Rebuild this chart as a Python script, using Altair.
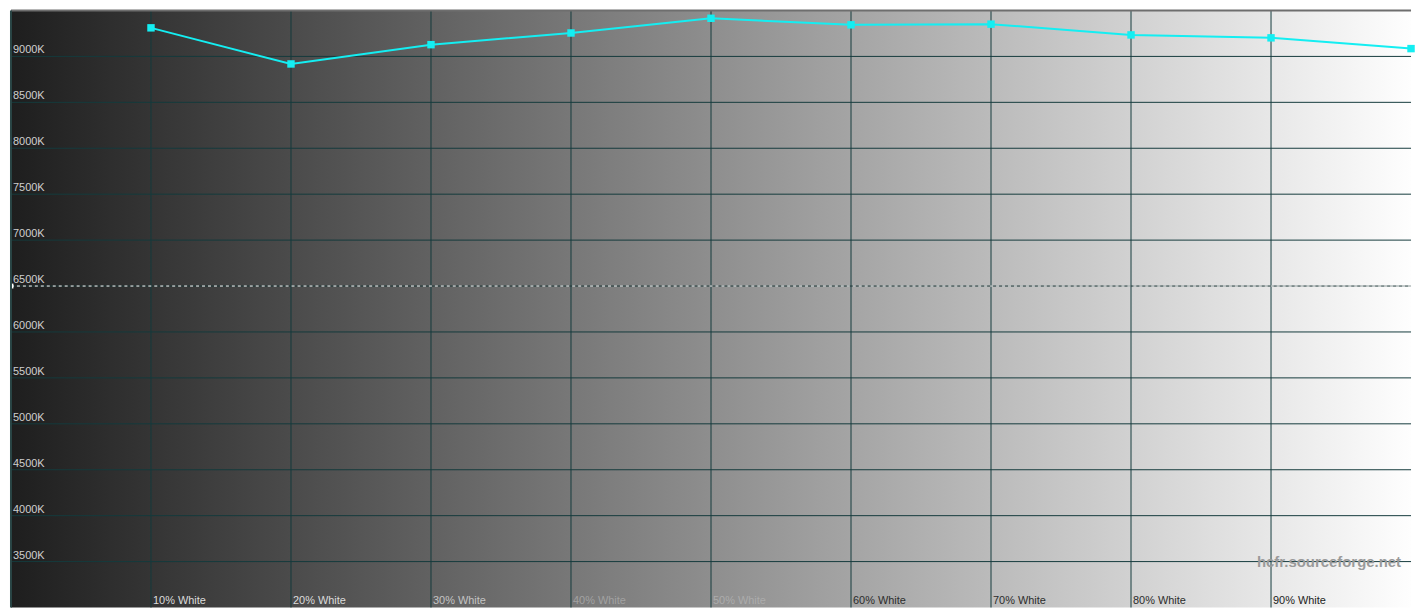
import altair as alt
import pandas as pd

# Data
levels = [10, 20, 30, 40, 50, 60, 70, 80, 90, 100]
temps = [9311, 8918, 9128, 9255, 9415, 9344, 9351, 9234, 9202, 9085]

x_ticks = [10, 20, 30, 40, 50, 60, 70, 80, 90]
x_labels = ["10% White", "20% White", "30% White", "40% White", "50% White",
            "60% White", "70% White", "80% White", "90% White"]
x_label_colors = ["#dcdcdc", "#dcdcdc", "#c4c4c4", "#a2a2a2", "#acacac",
                  "#2c2c2c", "#2c2c2c", "#2c2c2c", "#222222"]

y_ticks = [3500, 4000, 4500, 5000, 5500, 6000, 6500, 7000, 7500, 8000, 8500, 9000]
y_labels = [f"{v}K" for v in y_ticks]

reference_temp = 6500
x_min, x_max = 0, 100
y_min, y_max = 3000, 9500

W, H = 1407, 600

xs = alt.Scale(domain=[x_min, x_max], nice=False, zero=False)
ys = alt.Scale(domain=[y_min, y_max], nice=False, zero=False)

grid_axis_x = alt.Axis(values=x_ticks, labels=False, ticks=False, domain=False,
                       grid=True, gridColor="#143a3c", gridWidth=1, gridOpacity=1, title=None)
grid_axis_y = alt.Axis(values=y_ticks, labels=False, ticks=False, domain=False,
                       grid=True, gridColor="#143a3c", gridWidth=1, gridOpacity=1, title=None)

bg_df = pd.DataFrame({"x": [x_min], "x2": [x_max], "y": [y_min], "y2": [y_max]})
background = alt.Chart(bg_df).mark_rect(
    fill=alt.Gradient(
        gradient="linear",
        stops=[alt.GradientStop(color="#1e1e1e", offset=0),
               alt.GradientStop(color="#fefefe", offset=1)],
        x1=0, x2=1, y1=0, y2=0,
    )
).encode(
    x=alt.X("x:Q", scale=xs, axis=grid_axis_x),
    x2="x2:Q",
    y=alt.Y("y:Q", scale=ys, axis=grid_axis_y),
    y2="y2:Q",
)

# grid drawn again above the background
gx_df = pd.DataFrame({"x": x_ticks})
gridx = alt.Chart(gx_df).mark_rule(color="#143a3c", strokeWidth=1).encode(
    x=alt.X("x:Q", scale=xs, axis=None))
gy_df = pd.DataFrame({"y": [v for v in y_ticks if v != reference_temp]})
gridy = alt.Chart(gy_df).mark_rule(color="#143a3c", strokeWidth=1).encode(
    y=alt.Y("y:Q", scale=ys, axis=None))

ref_df = pd.DataFrame({"y": [reference_temp]})
ref_dark = alt.Chart(ref_df).mark_rule(color="#1c3636", strokeWidth=1).encode(
    y=alt.Y("y:Q", scale=ys, axis=None))
ref_white = alt.Chart(ref_df).mark_rule(color="#ffffff", strokeWidth=1,
                                        strokeDash=[3, 3]).encode(
    y=alt.Y("y:Q", scale=ys, axis=None))
ref_mark = alt.Chart(pd.DataFrame({"x": [x_min], "y": [reference_temp]})).mark_point(
    shape="square", filled=True, color="#ffffff", size=24, opacity=1).encode(
    x=alt.X("x:Q", scale=xs, axis=None), y=alt.Y("y:Q", scale=ys, axis=None))

data_df = pd.DataFrame({"level": levels, "temp": temps})
line = alt.Chart(data_df).mark_line(color="#14eef2", strokeWidth=2).encode(
    x=alt.X("level:Q", scale=xs, axis=None),
    y=alt.Y("temp:Q", scale=ys, axis=None),
)
points = alt.Chart(data_df).mark_point(shape="square", filled=True, color="#14eef2",
                                       size=56, opacity=1).encode(
    x=alt.X("level:Q", scale=xs, axis=None),
    y=alt.Y("temp:Q", scale=ys, axis=None),
)

xl_df = pd.DataFrame({"x": x_ticks, "label": x_labels, "c": x_label_colors, "y": [y_min] * len(x_ticks)})
xlabels = alt.Chart(xl_df).mark_text(align="left", baseline="bottom", dx=2, dy=-2,
                                     font="Liberation Sans", fontSize=11).encode(
    x=alt.X("x:Q", scale=xs, axis=None),
    y=alt.Y("y:Q", scale=ys, axis=None),
    text="label:N",
    color=alt.Color("c:N", scale=None),
)

yl_df = pd.DataFrame({"y": y_ticks, "label": y_labels, "x": [x_min] * len(y_ticks)})
ylabels = alt.Chart(yl_df).mark_text(align="left", baseline="bottom", dx=2, dy=-1,
                                     font="Liberation Sans", fontSize=11,
                                     color="#cfcfcf").encode(
    x=alt.X("x:Q", scale=xs, axis=None),
    y=alt.Y("y:Q", scale=ys, axis=None),
    text="label:N",
)

wm_df = pd.DataFrame({"x": [x_max], "y": [3500], "t": ["hcfr.sourceforge.net"]})
watermark = alt.Chart(wm_df).mark_text(align="right", baseline="middle", dx=-10, dy=0,
                                       font="Liberation Sans", fontSize=15,
                                       fontWeight="bold", color="#9a9a9a").encode(
    x=alt.X("x:Q", scale=xs, axis=None),
    y=alt.Y("y:Q", scale=ys, axis=None),
    text="t:N",
)

top_border = alt.Chart(pd.DataFrame({"y": [y_max]})).mark_rule(color="#6e6e6e", strokeWidth=2).encode(
    y=alt.Y("y:Q", scale=ys, axis=None))
left_border = alt.Chart(pd.DataFrame({"x": [x_min]})).mark_rule(color="#2a4646", strokeWidth=2).encode(
    x=alt.X("x:Q", scale=xs, axis=None))

chart = alt.layer(
    background, gridx, gridy, ref_dark, ref_white, ref_mark,
    watermark, xlabels, ylabels, line, points, top_border, left_border,
).properties(
    width=W, height=H, padding=0, background="#ffffff"
).configure_view(strokeWidth=0)

chart.save("out.html", embed_options={"renderer": "svg", "actions": False})
